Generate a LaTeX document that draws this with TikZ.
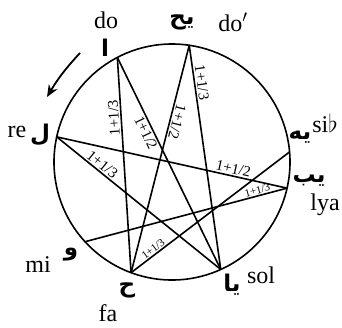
\documentclass[tikz,border=0pt]{standalone}
\usepackage{fontspec}
\setmainfont{Liberation Serif}
\newfontfamily\arabicfont[Script=Arabic]{DejaVu Sans}
\TeXXeTstate=1
\usepackage{tikz}
\usetikzlibrary{arrows.meta,positioning}

\tikzset{
    chord/.style={line width=1.6pt},
    ratio/.style={font=\fontsize{15}{15}\selectfont, inner sep=1.5pt, sloped, allow upside down},
    smallratio/.style={ratio, font=\fontsize{11}{11}\selectfont, inner sep=1pt},
    notename/.style={font=\fontsize{24}{24}\selectfont, inner sep=0pt},
    letter/.style={font=\arabicfont\bfseries\fontsize{23}{23}\selectfont, inner sep=0pt},
}

\begin{document}
\begin{tikzpicture}[x=1pt,y=1pt]
    \useasboundingbox (0,-327) rectangle (342,0);
    \coordinate (c) at (172,-162);
    \draw[line width=1.6pt] (c) circle (118);
    % the eight notes on the circle
    \path (c) ++(117.6:118) coordinate (do);
    \path (c) ++(81.6:118) coordinate (doo);
    \path (c) ++(4.9:118) coordinate (sib);
    \path (c) ++(-12.8:118) coordinate (lya);
    \path (c) ++(-65.6:118) coordinate (sol);
    \path (c) ++(-110.3:118) coordinate (fa);
    \path (c) ++(-137.5:118) coordinate (mi);
    \path (c) ++(167.7:118) coordinate (re);
    % fourths and fifths
    \draw[chord] (fa) -- node[ratio, above, pos=0.72] {1+1/3} (do);
    \draw[chord] (do) -- node[ratio, below, pos=0.34] {1+1/2} (sol);
    \draw[chord] (doo) -- node[ratio, above, pos=0.33] {1+1/2} (fa);
    \draw[chord] (doo) -- node[ratio, above, pos=0.17] {1+1/3} (sol);
    \draw[chord] (re) -- node[ratio, above, pos=0.25] {1+1/3} (sol);
    \draw[chord] (re) -- node[ratio, above, pos=0.76] {1+1/2} (lya);
    \draw[chord] (mi) -- node[smallratio, above, pos=0.86] {1+1/3} (lya);
    \draw[chord] (fa) -- node[smallratio, above, pos=0.16] {1+1/3} (sib);
    % names
    \node[notename] (do-name) at (106,-20) {do};
    \node[letter] (do-letter) at (105,-48) {\beginR ا\endR};
    \node[notename] (doo-name) at (233,-22) {do$^{\prime}$};
    \node[letter] (doo-letter) at (182,-22) {\beginR يح\endR};
    \node[notename] (sib-name) at (325,-123) {si$\flat$};
    \node[letter] (sib-letter) at (300,-137) {\beginR يه\endR};
    \node[notename] (lya-name) at (325,-205) {lya};
    \node[letter] (lya-letter) at (309,-181) {\beginR يب\endR};
    \node[notename] (sol-name) at (261,-275) {sol};
    \node[letter] (sol-letter) at (232,-285) {\beginR يا\endR};
    \node[notename] (fa-name) at (108,-313) {fa};
    \node[letter] (fa-letter) at (127,-290) {\beginR ح\endR};
    \node[notename] (mi-name) at (38,-265) {mi};
    \node[letter] (mi-letter) at (71,-255) {\beginR و\endR};
    \node[notename] (re-name) at (17,-132) {re};
    \node[letter] (re-letter) at (40,-135) {\beginR ل\endR};
    % direction
    \coordinate (arrtail) at (80,-53);
    \coordinate (arrhead) at (47,-97);
    \draw[line width=1.8pt, -{Stealth[length=12pt,width=10pt]}] (arrtail) to[bend right=6] (arrhead);
\end{tikzpicture}
\end{document}
